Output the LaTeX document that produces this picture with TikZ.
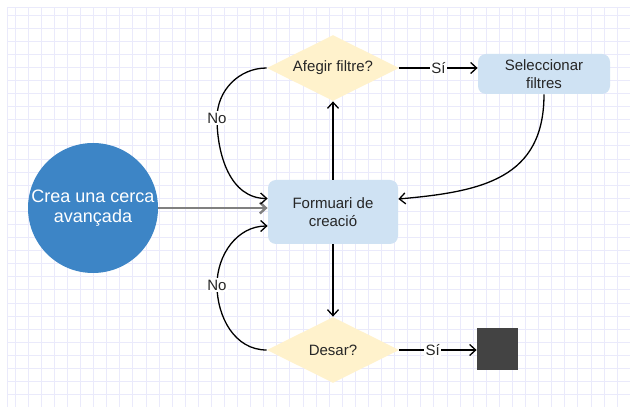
\documentclass[tikz,border=0pt]{standalone}
\usepackage{fontspec}
\setmainfont{Liberation Sans}
\usetikzlibrary{shapes.geometric,arrows.meta}
\definecolor{circblue}{HTML}{3D85C6}
\definecolor{boxblue}{HTML}{CFE2F3}
\definecolor{decyellow}{HTML}{FFF2CC}
\definecolor{endgray}{HTML}{434343}
\definecolor{gridcol}{RGB}{234,234,251}
\begin{document}
\begin{tikzpicture}[
        x=1pt, y=1pt,
        thick,
        font=\fontsize{15}{18}\selectfont
    ]
    \tikzset{
        startnode/.style = {circle, fill=circblue, text=white, align=center, inner sep=0pt, minimum size=130pt, font=\fontsize{18}{20}\selectfont},
        procnode/.style = {rectangle, rounded corners=8pt, fill=boxblue, text=black!85, align=center, minimum width=130pt, minimum height=64pt},
        selnode/.style = {rectangle, rounded corners=8pt, fill=boxblue, text=black!85, align=center, minimum width=132pt, minimum height=40pt, inner sep=0pt},
        decnode/.style = {diamond, aspect=2, fill=decyellow, text=black!85, inner sep=0pt, minimum width=132pt, minimum height=66pt},
        endnode/.style = {rectangle, fill=endgray, inner sep=0pt, minimum width=41pt, minimum height=42pt},
        gridline/.style = {draw=gridcol, line width=0.8pt},
        edgen/.style = {-{Straight Barb[length=6pt,width=11pt]}, line width=1.3pt, black},
        edgeg/.style = {-{Straight Barb[length=6pt,width=11pt]}, line width=2.4pt, black!50},
        lbl/.style = {fill=white, inner sep=1.5pt, text=black!85},
    }
    \useasboundingbox (0,0) rectangle (630,407);
    \fill[white] (0,0) rectangle (630,407);
    \foreach \i in {0,...,47} \draw[gridline] ({15+13.09*\i},0) -- ({15+13.09*\i},400);
    \foreach \j in {0,...,29} \draw[gridline] (7,{392-13.09*\j}) -- (630,{392-13.09*\j});
    \draw[gridline] (7,0) -- (7,400) -- (630,400);
    %
    \node[startnode] at (93,199) (start) {Crea una cerca\\avançada};
    \node[procnode] at (333,195) (form) {Formuari de\\creació};
    \node[decnode] at (333,339) (afegir) {Afegir filtre?};
    \node[selnode] at (544,333) (sel) {Seleccionar\\filtres};
    \node[decnode] at (333,57) (desar) {Desar?};
    \node[endnode] at (497.5,58) (fin) {};
    %
    \draw[edgeg] (start) -- (start -| form.west);
    \draw[edgen] (form.north) -- (afegir.south);
    \draw[edgen] (form.south) -- (desar.north);
    %
    \draw[edgen] (afegir.east) -- node[lbl] {Sí} (afegir.east -| sel.west);
    \draw[edgen] (desar.east) -- node[lbl, pos=0.43] {Sí} (desar.east -| fin.west);
    %
    \draw[edgen] (afegir.west) to[out=180, in=90] (217,289) node[lbl] {No}
        to[out=-90, in=180] ([yshift=13.5pt]form.west);
    \draw[edgen] (desar.west) to[out=180, in=-90] (217,122) node[lbl] {No}
        to[out=90, in=180] ([yshift=-14pt]form.west);
    \draw[edgen] (sel.south) to[out=-90, in=5, looseness=1.2] ([yshift=13pt]form.east);
\end{tikzpicture}
\end{document}
